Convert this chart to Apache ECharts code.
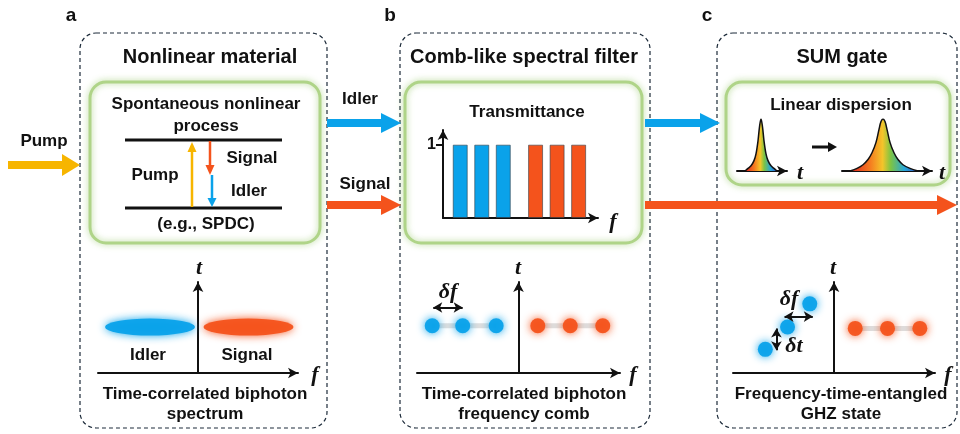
<!DOCTYPE html>
<html>
<head>
<meta charset="utf-8">
<script src="https://cdn.jsdelivr.net/npm/echarts@6/dist/echarts.min.js"></script>
<style>html,body{margin:0;padding:0;background:#fff}#c{width:960px;height:434px}</style>
</head>
<body>
<div id="c"></div>
<script>
// ---------- data ----------
var panelLabels = ['a', 'b', 'c'];
var panelTitles = ['Nonlinear material', 'Comb-like spectral filter', 'SUM gate'];
// transmittance comb (position along f, transmittance)
var combIdlerPos = [0.8, 1.8, 2.8];
var combSignalPos = [4.3, 5.3, 6.3];
var combValue = [1, 1, 1];
var transTicks = [1];
// biphoton spectrum lobes (f centre, t centre)
var lobeIdler = [-0.48, 0.505];
var lobeSignal = [0.505, 0.505];
// frequency comb (panel b)
var combBIdler = [[-0.85, 0.52], [-0.55, 0.52], [-0.22, 0.52]];
var combBSignal = [[0.19, 0.52], [0.51, 0.52], [0.83, 0.52]];
var deltaFB = [[-0.84, 0.72], [-0.55, 0.72]];
// GHZ state (panel c)
var ghzIdler = [[-0.24, 0.76], [-0.46, 0.505], [-0.68, 0.26]];
var ghzSignal = [[0.21, 0.49], [0.53, 0.49], [0.85, 0.49]];
var deltaFC = [[-0.49, 0.62], [-0.21, 0.62]];
var deltaTC = [[-0.57, 0.49], [-0.57, 0.25]];
// pulses (time offset, amplitude)
var pulseNarrow = [[-16,0],[-13,0.05],[-10,0.1],[-7,0.2],[-5,0.33],[-3,0.58],[-1.5,0.85],[0,1],[1.5,0.85],[3,0.58],[5,0.33],[7,0.2],[10,0.1],[13,0.05],[16,0]];
var pulseWide = [[-33,0],[-26,0.05],[-20,0.12],[-15,0.22],[-11,0.35],[-7,0.55],[-4,0.8],[-2,0.95],[0,1],[2,0.95],[4,0.8],[7,0.55],[11,0.35],[15,0.22],[20,0.12],[27,0.05],[35,0]];

// ---------- styles ----------
var BLUE = '#0AA2EA', ORANGE = '#F4531C', PUMP = '#F7B500', BLACK = '#111';
var SANS = 'bold 17px "Liberation Sans", Arial, sans-serif';
var TITLE = 'bold 20px "Liberation Sans", Arial, sans-serif';
var LABEL = 'bold 19px "Liberation Sans", Arial, sans-serif';
var SERIF = 'italic bold 22px "Liberation Serif", "Times New Roman", serif';

var chart = echarts.init(document.getElementById('c'), null, {renderer: 'canvas'});

function txt(t, x, y, font, color) {
  return {type: 'text', z: 10, style: {text: t, x: x, y: y, font: font || SANS, fill: color || BLACK, textAlign: 'center', textVerticalAlign: 'middle'}};
}
function hArrow(x1, x2, y, color, w, hl, hw) {
  return [
    {type: 'line', z: 5, shape: {x1: x1, y1: y, x2: x2 - hl + 1, y2: y}, style: {stroke: color, lineWidth: w}},
    {type: 'polygon', z: 5, shape: {points: [[x2 - hl, y - hw / 2], [x2, y], [x2 - hl, y + hw / 2]]}, style: {fill: color}}
  ];
}
function vArrow(x, y1, y2, color, w, hl, hw) { // from y1 to y2 (head at y2)
  var dir = y2 > y1 ? 1 : -1;
  return [
    {type: 'line', z: 5, shape: {x1: x, y1: y1, x2: x, y2: y2 - dir * (hl - 1)}, style: {stroke: color, lineWidth: w}},
    {type: 'polygon', z: 5, shape: {points: [[x - hw / 2, y2 - dir * hl], [x, y2], [x + hw / 2, y2 - dir * hl]]}, style: {fill: color}}
  ];
}
function dashBox(x, y, w, h) {
  return {type: 'rect', z: 1, shape: {x: x, y: y, width: w, height: h, r: 16}, style: {fill: 'none', stroke: '#1d2b3a', lineWidth: 1.2, lineDash: [4, 3]}};
}
function greenBox(x, y, w, h) {
  return {type: 'rect', z: 1, shape: {x: x, y: y, width: w, height: h, r: 16}, style: {fill: 'rgba(255,255,255,0)', stroke: '#AFD488', lineWidth: 3, shadowBlur: 6, shadowColor: 'rgba(140,195,90,0.7)'}};
}

var g = [];
// panel boxes
g.push(dashBox(80, 33, 247, 395), dashBox(400, 33, 250, 395), dashBox(717, 33, 240, 395));
g.push(greenBox(90, 82, 230, 161), greenBox(405, 82, 237, 161), greenBox(726, 82, 224, 103));
// labels and titles
g.push(txt(panelLabels[0], 71, 16, LABEL), txt(panelLabels[1], 390, 16, LABEL), txt(panelLabels[2], 707, 16, LABEL));
g.push(txt(panelTitles[0], 210, 57, TITLE), txt(panelTitles[1], 524, 57, TITLE), txt(panelTitles[2], 842, 57, TITLE));
// panel a diagram
g.push(txt('Spontaneous nonlinear', 206, 104), txt('process', 206, 126));
g.push({type: 'line', z: 5, shape: {x1: 125, y1: 140, x2: 282, y2: 140}, style: {stroke: BLACK, lineWidth: 3}});
g.push({type: 'line', z: 5, shape: {x1: 125, y1: 208, x2: 282, y2: 208}, style: {stroke: BLACK, lineWidth: 3}});
g = g.concat(vArrow(192, 207, 142, PUMP, 2.5, 10, 9));
g = g.concat(vArrow(210, 141, 175, ORANGE, 2.5, 10, 9));
g = g.concat(vArrow(212, 175, 207, BLUE, 2.5, 9, 9));
g.push(txt('Pump', 155, 175), txt('Signal', 252, 158), txt('Idler', 249, 191), txt('(e.g., SPDC)', 206, 224));
// flow arrows
g.push(txt('Pump', 44, 141));
g = g.concat(hArrow(8, 80, 165, PUMP, 8, 18, 22));
g.push(txt('Idler', 360, 99), txt('Signal', 365, 184));
g = g.concat(hArrow(327, 401, 123, BLUE, 8, 20, 20));
g = g.concat(hArrow(327, 401, 205, ORANGE, 8, 20, 20));
g = g.concat(hArrow(645, 720, 123, BLUE, 8, 20, 20));
g = g.concat(hArrow(645, 957, 205, ORANGE, 8, 20, 20));
// panel b transmittance
g.push(txt('Transmittance', 527, 112));
g.push(txt('f', 613, 222, SERIF));
// panel c dispersion
g.push(txt('Linear dispersion', 841, 105));
g.push(txt('t', 800, 173, SERIF), txt('t', 942, 173, SERIF));
g = g.concat(hArrow(812, 837, 147, BLACK, 3, 9, 10));
// bottom plots labels
g.push(txt('t', 199, 268, SERIF), txt('f', 315, 375, SERIF));
g.push(txt('Idler', 148, 355), txt('Signal', 247, 355));
g.push(txt('Time-correlated biphoton', 205, 394), txt('spectrum', 205, 414));
g.push(txt('t', 518, 268, SERIF), txt('f', 633, 375, SERIF), txt('δf', 448, 292, SERIF));
g.push(txt('Time-correlated biphoton', 524, 394), txt('frequency comb', 524, 414));
g.push(txt('t', 833, 268, SERIF), txt('f', 948, 375, SERIF), txt('δf', 789, 299, SERIF), txt('δt', 794, 346, SERIF));
g.push(txt('Frequency-time-entangled', 841, 394), txt('GHZ state', 841, 414));

var axLine = {show: true, lineStyle: {color: BLACK, width: 2}, symbol: ['none', 'arrow'], symbolSize: [8, 10]};
function xAx(gi, min, max) {
  return {type: 'value', gridIndex: gi, min: min, max: max, axisLine: axLine, axisTick: {show: false}, axisLabel: {show: false}, splitLine: {show: false}};
}
function yAx(gi, min, max) {
  return {type: 'value', gridIndex: gi, min: min, max: max, axisLine: axLine, axisTick: {show: false}, axisLabel: {show: false}, splitLine: {show: false}};
}
var dblArrow = function (pairs) {
  return {silent: true, symbol: ['arrow', 'arrow'], symbolSize: [8, 9], label: {show: false},
    lineStyle: {color: BLACK, width: 2, type: 'solid'},
    data: pairs.map(function (p) { return [{coord: p[0]}, {coord: p[1]}]; })};
};
function dots(xi, data, color, extra) {
  var s = {type: 'scatter', xAxisIndex: xi, yAxisIndex: xi, data: data, symbolSize: 15, z: 4,
    itemStyle: {color: color, shadowBlur: 8, shadowColor: color, opacity: 0.95}};
  if (extra) s.markLine = extra;
  return s;
}
function link(xi, data) {
  return {type: 'line', xAxisIndex: xi, yAxisIndex: xi, data: data, symbol: 'none', z: 3,
    lineStyle: {color: '#dedede', width: 5}};
}
var rainbow = {type: 'linear', x: 0, y: 0, x2: 1, y2: 0, colorStops: [
  {offset: 0, color: '#E0201E'}, {offset: 0.3, color: '#F57D20'}, {offset: 0.48, color: '#F4C52A'},
  {offset: 0.6, color: '#7DC443'}, {offset: 0.8, color: '#27A7D8'}, {offset: 1, color: '#2E55C8'}]};
function pulse(xi, data) {
  return {type: 'line', xAxisIndex: xi, yAxisIndex: xi, data: data, symbol: 'none', smooth: 0.35, z: 3,
    lineStyle: {color: BLACK, width: 1.5}, areaStyle: {color: rainbow, opacity: 1}};
}

var option = {
  animation: false,
  backgroundColor: '#fff',
  graphic: {elements: g},
  grid: [
    {left: 98, top: 282, width: 200, height: 91},
    {left: 443, top: 130, width: 155, height: 88},
    {left: 417, top: 282, width: 203, height: 91},
    {left: 733, top: 282, width: 202, height: 91},
    {left: 737, top: 119, width: 50, height: 52},
    {left: 842, top: 119, width: 90, height: 52}
  ],
  xAxis: [
    xAx(0, -1, 1),
    xAx(1, 0, 7.2),
    xAx(2, -1, 1),
    xAx(3, -1, 1),
    xAx(4, -24, 26),
    xAx(5, -41, 49)
  ],
  yAxis: [
    yAx(0, 0, 1),
    {type: 'value', gridIndex: 1, min: 0, max: 1.2, axisLine: axLine,
      axisTick: {show: true, length: 7, customValues: transTicks, lineStyle: {color: BLACK, width: 2}},
      axisLabel: {show: true, margin: 7, customValues: transTicks, color: BLACK, fontSize: 16, fontWeight: 'bold', fontFamily: 'Liberation Sans'},
      splitLine: {show: false}},
    yAx(2, 0, 1),
    yAx(3, 0, 1),
    {type: 'value', gridIndex: 4, min: 0, max: 1, show: false},
    {type: 'value', gridIndex: 5, min: 0, max: 1, show: false}
  ],
  series: [
    {type: 'scatter', xAxisIndex: 0, yAxisIndex: 0, data: [lobeIdler], symbol: 'circle', symbolSize: [90, 17], z: 3,
      itemStyle: {color: BLUE, shadowBlur: 9, shadowColor: BLUE, opacity: 0.95}},
    {type: 'scatter', xAxisIndex: 0, yAxisIndex: 0, data: [lobeSignal], symbol: 'circle', symbolSize: [90, 17], z: 3,
      itemStyle: {color: ORANGE, shadowBlur: 9, shadowColor: ORANGE, opacity: 0.95}},
    {type: 'bar', xAxisIndex: 1, yAxisIndex: 1, barWidth: 15,
      data: combIdlerPos.map(function (p, i) { return [p, combValue[i]]; }),
      itemStyle: {color: BLUE, borderColor: 'rgba(50,60,70,0.6)', borderWidth: 1}},
    {type: 'bar', xAxisIndex: 1, yAxisIndex: 1, barWidth: 15, barGap: '-100%',
      data: combSignalPos.map(function (p, i) { return [p, combValue[i]]; }),
      itemStyle: {color: ORANGE, borderColor: 'rgba(50,60,70,0.6)', borderWidth: 1}},
    link(2, combBIdler), link(2, combBSignal),
    dots(2, combBIdler, BLUE, dblArrow([deltaFB])),
    dots(2, combBSignal, ORANGE),
    link(3, ghzSignal),
    dots(3, ghzIdler, BLUE, dblArrow([deltaFC, deltaTC])),
    dots(3, ghzSignal, ORANGE),
    pulse(4, pulseNarrow),
    pulse(5, pulseWide)
  ]
};
chart.setOption(option);
</script>
</body>
</html>
